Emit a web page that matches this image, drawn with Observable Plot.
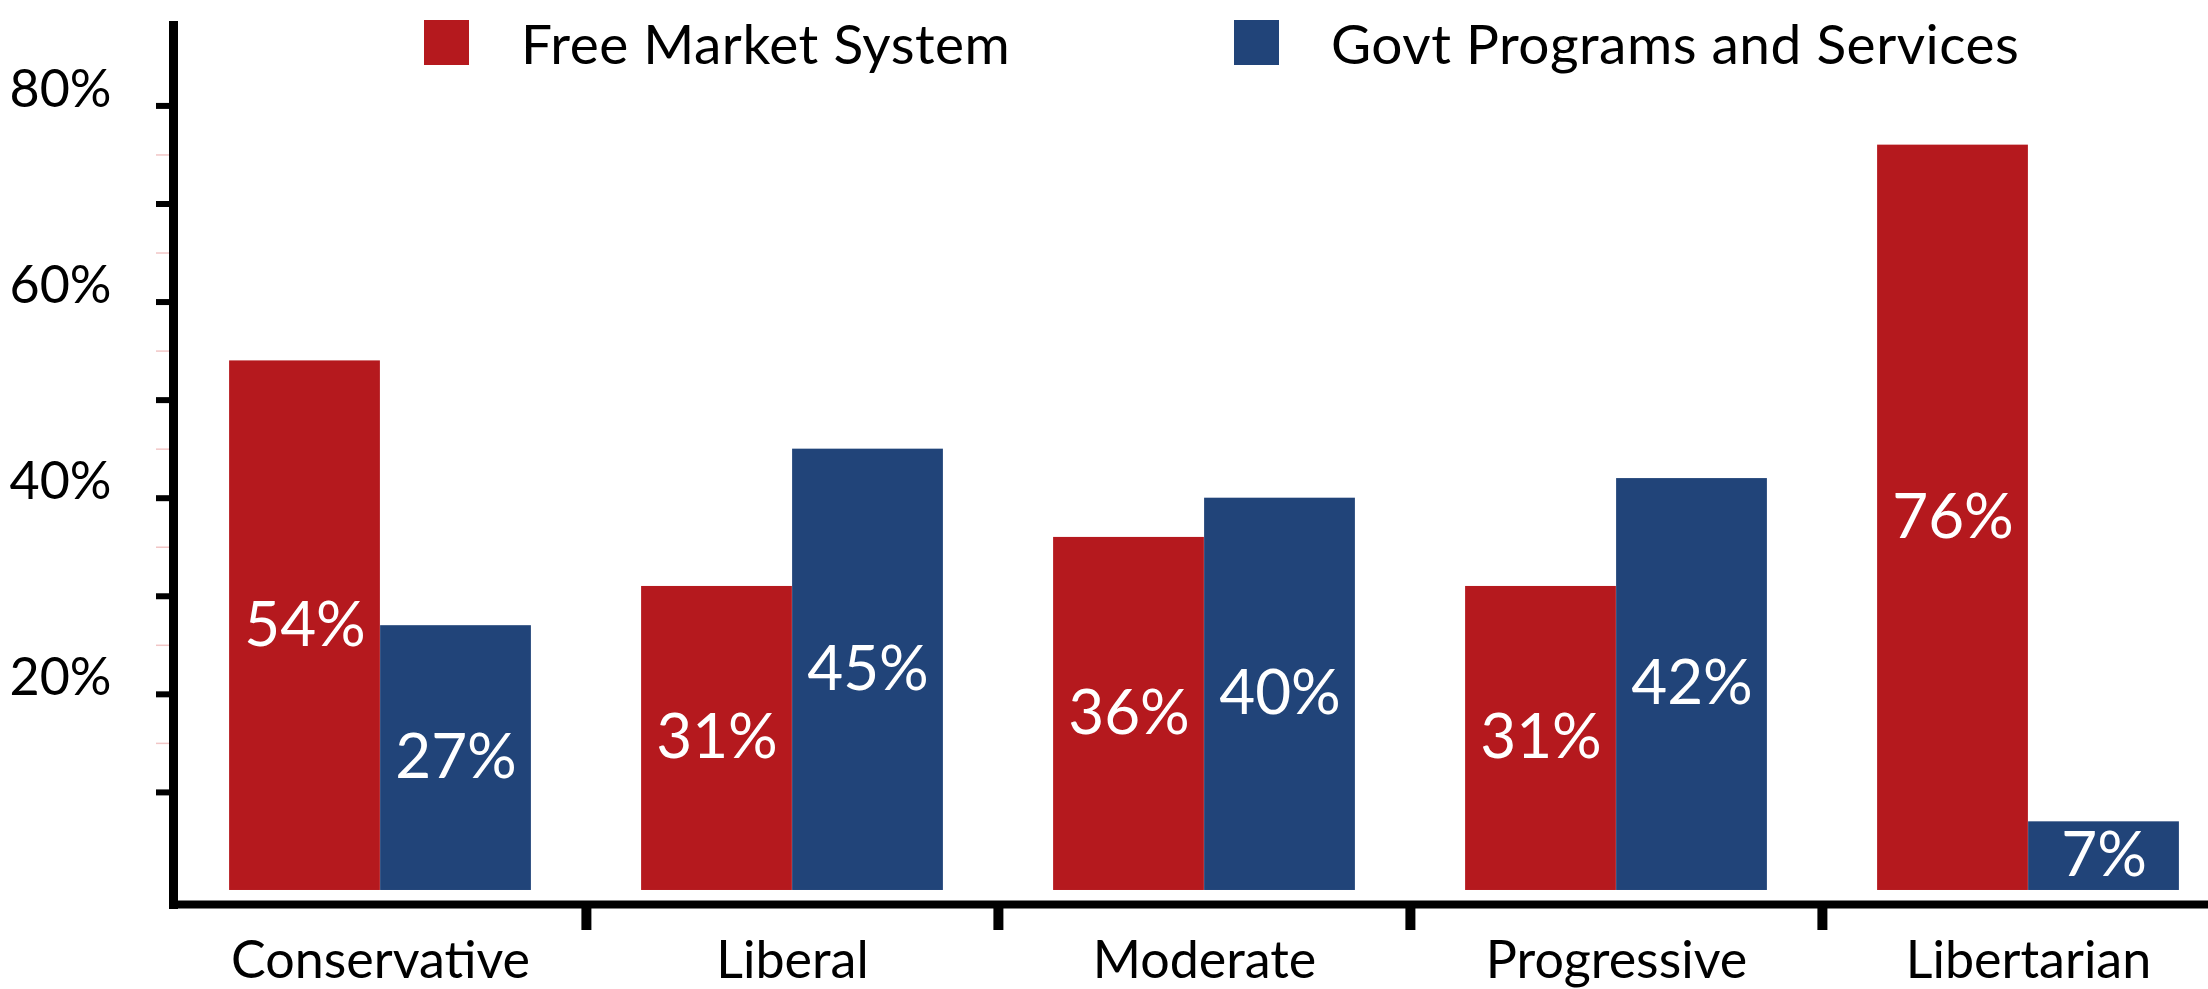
<!DOCTYPE html>
<html><head><meta charset="utf-8">
<script src="https://cdn.jsdelivr.net/npm/d3@7"></script>
<script src="https://cdn.jsdelivr.net/npm/@observablehq/plot@0.6"></script>
<style>
html,body{margin:0;padding:0;background:#fff;overflow:hidden;}
#wrap{position:relative;width:2208px;height:989px;overflow:hidden;font-family:Lato,sans-serif;}
.leg{position:absolute;top:20px;display:flex;align-items:center;height:45px;font-size:55px;color:#000;white-space:nowrap;letter-spacing:0.5px;}
.sw{width:45px;height:45px;display:inline-block;margin-right:52px;}
#chart svg{display:block;}
</style></head><body>
<div id="wrap"><div id="chart"></div></div>
<script>
const categories = ["Conservative", "Liberal", "Moderate", "Progressive", "Libertarian"];
const freeMarket = [54, 31, 36, 31, 76];
const govtPrograms = [27, 45, 40, 42, 7];
const seriesNames = ["Free Market System", "Govt Programs and Services"];
const seriesColors = ["#b5191e", "#214479"];
const yTicks = [10, 20, 30, 40, 50, 60, 70, 80];
const yLabelTicks = [20, 40, 60, 80];
const yMinorTicks = [15, 25, 35, 45, 55, 65, 75];

const rows = categories.flatMap((c, i) => [
  {category: c, series: seriesNames[0], value: freeMarket[i]},
  {category: c, series: seriesNames[1], value: govtPrograms[i]}
]);
const rowsA = rows.filter(d => d.series === seriesNames[0]);
const rowsB = rows.filter(d => d.series === seriesNames[1]);

const W = 2208, H = 989;
const xRange = [173, 2234];
const step = (xRange[1] - xRange[0]) / categories.length;
const barW = 151;
const outer = (step - 2 * barW) / 2, inner = step / 2;
const yDomain = [-1.43, 88.2];

const chart = Plot.plot({
  width: W, height: H,
  marginLeft: 173, marginRight: 0, marginTop: 25, marginBottom: 85,
  style: {fontFamily: "Lato, sans-serif", background: "white", color: "black", overflow: "visible"},
  x: {type: "band", domain: categories, range: xRange, padding: 0, axis: null},
  y: {domain: yDomain, axis: null},
  marks: [
    Plot.barY(rowsA, {x: "category", y: "value", fill: seriesColors[0], insetLeft: outer, insetRight: inner}),
    Plot.barY(rowsB, {x: "category", y: "value", fill: seriesColors[1], insetLeft: inner, insetRight: outer}),
    Plot.text(rowsA, {x: "category", y: d => d.value / 2, text: d => d.value + "%", fill: "white", fontSize: 62, dx: -barW / 2}),
    Plot.text(rowsB, {x: "category", y: d => d.value / 2, text: d => d.value + "%", fill: "white", fontSize: 62, dx: barW / 2}),
    Plot.axisY({ticks: yMinorTicks, tickSize: 17, tickFormat: () => "", stroke: "#f1c6c6", strokeWidth: 1.5, label: null}),
    Plot.axisY({ticks: yTicks, tickSize: 17, tickFormat: () => "", stroke: "black", strokeWidth: 6, label: null}),
    Plot.axisY({ticks: yLabelTicks, tickSize: 0, tickPadding: 62, fontSize: 52, dy: -16, tickFormat: d => d + "%", label: null}),
    Plot.axisX({ticks: categories.slice(1), tickSize: 26, tickFormat: () => "", dx: -step / 2, stroke: "black", strokeWidth: 10, label: null}),
    Plot.axisX({tickSize: 0, tickPadding: 37, fontSize: 52, label: null}),
    Plot.frame({anchor: "left", stroke: "black", strokeWidth: 9, strokeLinecap: "square"}),
    Plot.frame({anchor: "bottom", stroke: "black", strokeWidth: 8, strokeLinecap: "square"})
  ]
});
document.getElementById("chart").appendChild(chart);

const legendLefts = [424, 1234];
const wrap = document.getElementById("wrap");
seriesNames.forEach((name, i) => {
  const item = document.createElement("div");
  item.className = "leg";
  item.style.left = legendLefts[i] + "px";
  const sw = document.createElement("span");
  sw.className = "sw";
  sw.style.background = seriesColors[i];
  const tx = document.createElement("span");
  tx.textContent = name;
  item.appendChild(sw);
  item.appendChild(tx);
  wrap.appendChild(item);
});
</script>
</body></html>
